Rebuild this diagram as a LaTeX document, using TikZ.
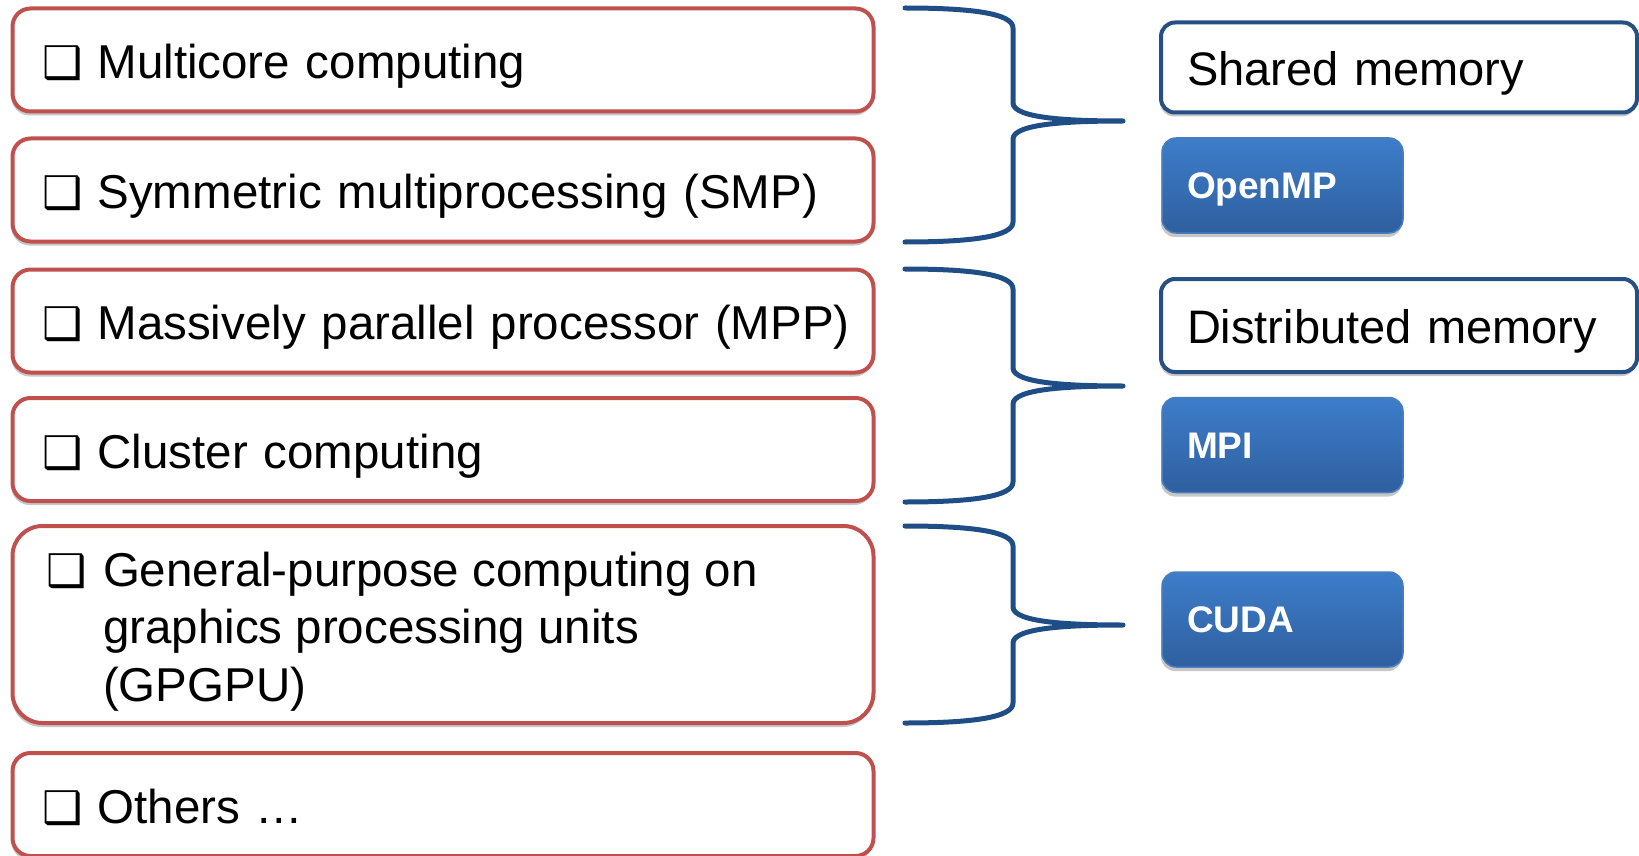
\documentclass[tikz,border=0pt]{standalone}
\usepackage{fontspec}
\setmainfont{Liberation Sans}
\newfontfamily\dvfont{DejaVu Sans}
\usetikzlibrary{shadows}
\definecolor{boxred}{HTML}{C0504D}
\definecolor{bracebl}{HTML}{1F4E86}
\definecolor{memblue}{HTML}{264F83}
\definecolor{btntop}{HTML}{3D7DCA}
\definecolor{btnbot}{HTML}{2F5F9F}
\definecolor{btnline}{HTML}{4A7EBB}
\newcommand{\cbglyph}{{\dvfont\fontsize{45}{45}\selectfont ❑}}
\newcommand{\cbx}{\hspace*{15pt}\makebox[55pt][l]{\cbglyph}}
\tikzset{
  softshadow/.style={drop shadow={shadow xshift=-1pt, shadow yshift=-4pt, fill=black, opacity=0.22}},
  redframe/.style={draw=boxred, line width=4pt, fill=white, rounded corners=18pt, anchor=west,
    outer sep=0pt, inner xsep=15pt, inner ysep=0pt, minimum width=861pt, text width=831pt,
    minimum height=103pt, align=left, softshadow, font=\fontsize{47.5}{57.5}\selectfont},
  redbox/.style={redframe, text height=37pt, text depth=0pt},
  membox/.style={draw=memblue, line width=4pt, fill=white, rounded corners=14pt, anchor=west,
    outer sep=0pt, inner xsep=26pt, inner ysep=0pt, minimum width=476pt, text width=424pt,
    minimum height=90pt, align=left, softshadow, font=\fontsize{47}{57}\selectfont,
    text height=36pt, text depth=0pt},
  btnbox/.style={draw=btnline, line width=1.5pt, top color=btntop, bottom color=btnbot,
    rounded corners=14pt, anchor=west, outer sep=0pt, inner xsep=25pt, inner ysep=0pt,
    minimum width=241pt, text width=191pt, minimum height=95pt, align=left, softshadow,
    text=white, font=\fontsize{37}{44}\selectfont\bfseries, text height=26.5pt, text depth=0pt},
  plaintext/.style={inner sep=0pt, outer sep=0pt, font=\fontsize{47.5}{57.5}\selectfont},
  bracestyle/.style={draw=bracebl, line width=5pt, line cap=round, line join=round}
}
\newcommand{\mybrace}[3]{%
  \draw[bracestyle] (905,#1) .. controls (975,#1) and (1013,{#1+6}) .. (1013,{#1+20})
    -- (1013,{#3-18}) .. controls (1013,{#3-2}) and (1075,#3) .. (1123,#3)
    .. controls (1075,#3) and (1013,{#3+2}) .. (1013,{#3+18})
    -- (1013,{#2-20}) .. controls (1013,{#2-6}) and (975,#2) .. (905,#2);}
\begin{document}
\begin{tikzpicture}[x=1pt,y=-1pt]
\useasboundingbox (0,0) rectangle (1639,856);
\node[redbox] (b1) at (12.5,60) {\cbx Multicore computing};
\node[redbox] (b2) at (12.5,190) {\cbx Symmetric multiprocessing (SMP)};
\node[redbox] (b3) at (12.5,321) {\cbx Massively parallel processor (MPP)};
\node[redbox] (b4) at (12.5,449.5) {\cbx Cluster computing};
\node[redframe, minimum height=197pt, rounded corners=30pt] (b5) at (12.5,624.5) {};
\node[plaintext, anchor=base west] (b5t) at (46,586)
  {\makebox[57pt][l]{\cbglyph}\begin{tabular}[t]{@{}l@{}}General-purpose computing on\\graphics processing units\\(GPGPU)\end{tabular}};
\node[redbox] (b6) at (12.5,804.5) {\cbx Others …};
\mybrace{8}{242}{121}
\mybrace{269}{502}{386}
\mybrace{526}{723}{625}
\node[membox] (shm) at (1161,67.5) {Shared memory};
\node[btnbox] (omp) at (1162,185.5) {OpenMP};
\node[membox, minimum height=93pt] (dm) at (1161,325.5) {Distributed memory};
\node[btnbox] (mpi) at (1162,445) {MPI};
\node[btnbox] (cuda) at (1162,619.5) {CUDA};
\end{tikzpicture}
\end{document}
